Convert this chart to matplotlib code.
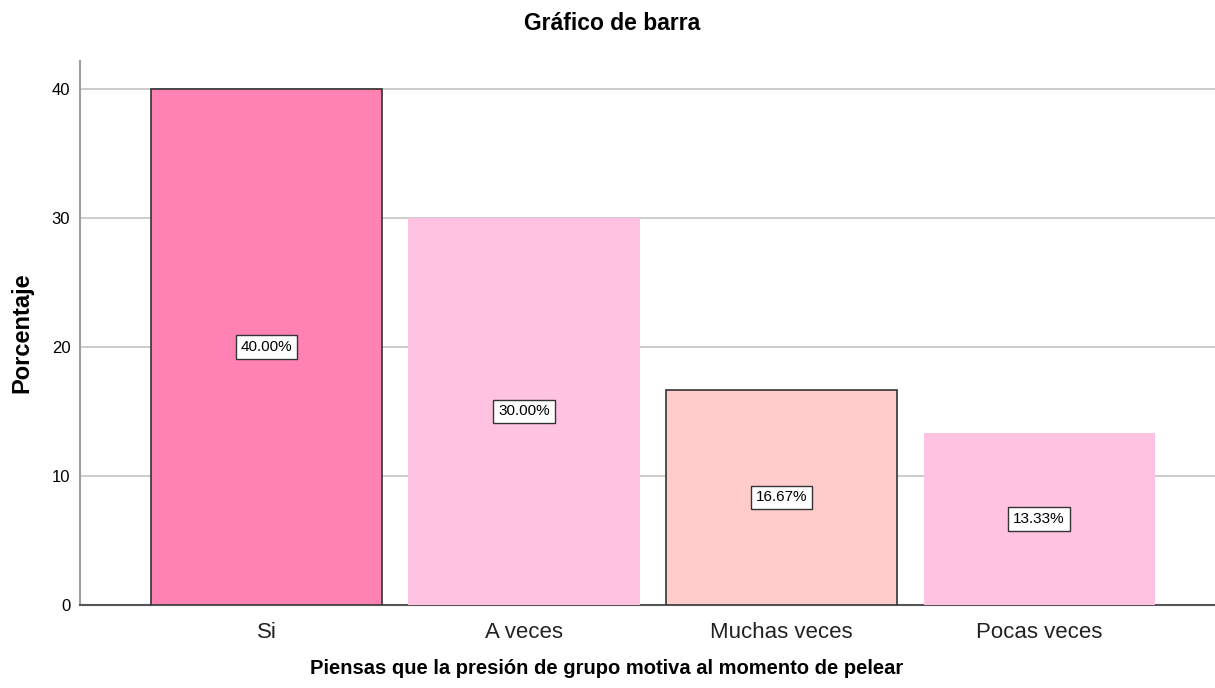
import matplotlib.pyplot as plt

categorias = ['Si', 'A veces', 'Muchas veces', 'Pocas veces']
porcentajes = [40.00, 30.00, 16.67, 13.33]
colores = ['#FF82B2', '#FFC2E1', '#FFCBCB', '#FFC2E1']
bordes = ['#333333', 'none', '#333333', 'none']


def main():
    plt.rcParams['font.family'] = ['Liberation Sans', 'DejaVu Sans']
    fig = plt.figure(figsize=[12.15, 6.88], dpi=100)
    ax = fig.add_axes([80 / 1215, 83 / 688, 1 - 80 / 1215, (605 - 61) / 688])

    x = list(range(len(categorias)))
    ax.bar(x, porcentajes, width=0.897, color=colores, edgecolor=bordes,
           linewidth=1.2, zorder=3)

    for xi, v in zip(x, porcentajes):
        ax.text(xi, v / 2, f'{v:.2f}%', ha='center', va='center', fontsize=11,
                zorder=4,
                bbox=dict(boxstyle='square,pad=0.32', facecolor='white',
                          edgecolor='#333333', linewidth=1.0))

    ax.set_xlim(-0.724, 3.683)
    ax.set_ylim(0, 42.17)
    ax.set_yticks([0, 10, 20, 30, 40])
    ax.set_xticks(x)
    ax.set_xticklabels(categorias, fontsize=16, color='#222222')
    ax.tick_params(axis='y', length=0, labelsize=12, pad=7)
    ax.tick_params(axis='x', length=0, pad=12)
    ax.yaxis.grid(True, color='#C8C8C8', linewidth=1.3, zorder=0)
    ax.set_axisbelow(True)

    for s in ['top', 'right']:
        ax.spines[s].set_visible(False)
    ax.spines['left'].set_color('#A0A0A0')
    ax.spines['left'].set_linewidth(1.5)
    ax.spines['bottom'].set_color('#555555')
    ax.spines['bottom'].set_linewidth(1.5)

    fig.text(22 / 1215, 1 - 333 / 688, 'Porcentaje', rotation=90, ha='center',
             va='center', fontsize=17, fontweight='bold')
    fig.text(607 / 1215, 1 - 668 / 688,
             'Piensas que la presión de grupo motiva al momento de pelear',
             ha='center', va='center', fontsize=14.5, fontweight='bold')
    fig.text(612 / 1215, 1 - 24 / 688, 'Gráfico de barra', ha='center',
             va='center', fontsize=16.5, fontweight='bold')

    fig.savefig('out.png', dpi=100)


if __name__ == '__main__':
    main()
